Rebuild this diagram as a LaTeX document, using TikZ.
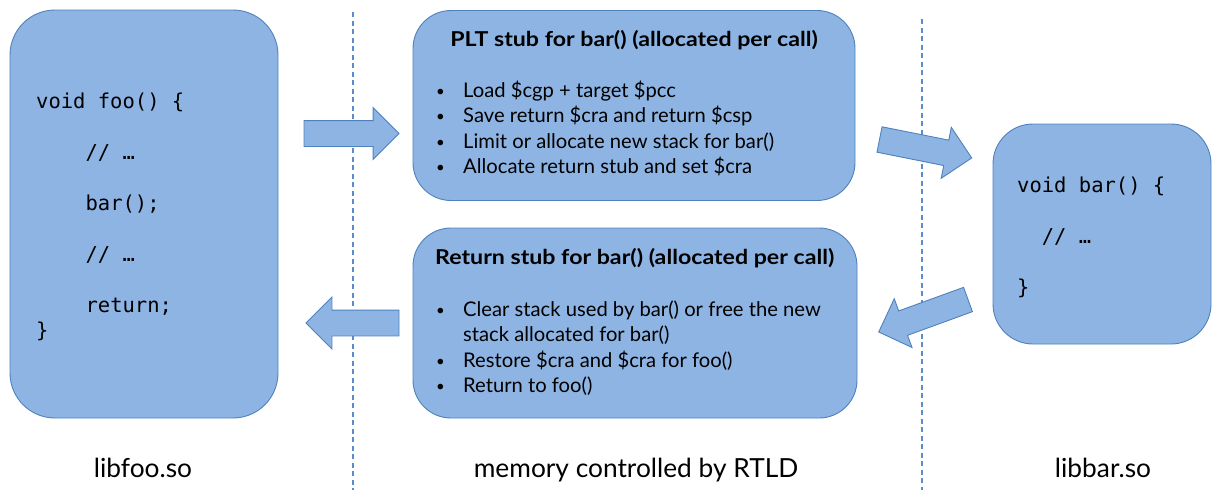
\documentclass[tikz,border=0pt]{standalone}
\usepackage{fontspec}
\setmainfont{Lato}
\newfontfamily\codefont{DejaVu Sans Mono}
\newfontfamily\headfont[FakeStretch=1.13]{Lato Bold}
\usetikzlibrary{shapes.arrows}

\definecolor{boxfill}{HTML}{8EB4E3}
\definecolor{boxline}{HTML}{4F81BD}
\definecolor{sepline}{HTML}{5B8BCB}

\tikzset{
  panel/.style={draw=boxline, fill=boxfill, line width=0.9pt, inner sep=0pt, outer sep=0pt},
  flowarrow/.style={single arrow, draw=boxline, fill=boxfill, line width=0.9pt,
    single arrow tip angle=90, single arrow head extend=13pt, single arrow head indent=0pt,
    inner xsep=0pt, inner ysep=12.5pt, outer sep=0pt, anchor=tail},
  separator/.style={draw=sepline, line width=1.2pt, dash pattern=on 5pt off 3.5pt},
  codetext/.style={anchor=base west, inner sep=0pt, font=\codefont\fontsize{20.5}{25.5}\selectfont},
  listtext/.style={anchor=base west, inner sep=0pt, font=\fontsize{20.2}{25.5}\selectfont},
  titletext/.style={inner sep=0pt, font=\headfont\fontsize{20.5}{24}\selectfont},
  caption/.style={anchor=base, inner sep=0pt, font=\fontsize{26.3}{30}\selectfont}
}
\newcommand{\itm}{\makebox[28pt][l]{\hspace{1pt}\raisebox{1pt}{\fontsize{15}{15}\selectfont\textbullet}}}

\begin{document}
\begin{tikzpicture}[x=1pt, y=-1pt]
\useasboundingbox (0,0) rectangle (1212,490);

% region separators
\coordinate (sepAtop) at (353,12);
\coordinate (sepAbot) at (353,490);
\coordinate (sepBtop) at (922,19);
\coordinate (sepBbot) at (922,490);
\draw[separator] (sepAtop) -- (sepAbot);
\draw[separator] (sepBtop) -- (sepBbot);

% panels
\node[panel, rounded corners=45pt, minimum width=268pt, minimum height=408pt] (foo) at (144,214) {};
\node[panel, rounded corners=38pt, minimum width=442pt, minimum height=190pt] (plt) at (634,105.5) {};
\node[panel, rounded corners=38pt, minimum width=444pt, minimum height=190pt] (ret) at (635,323) {};
\node[panel, rounded corners=40pt, minimum width=218pt, minimum height=220pt] (bar) at (1102,234) {};

% code of foo()
\node[codetext] (foocode) at (36,108) {%
  \begin{tabular}[t]{@{}l@{}}
  void foo() \{\\
  \\
  \ \ \ \ // …\\
  \\
  \ \ \ \ bar();\\
  \\
  \ \ \ \ // …\\
  \\
  \ \ \ \ return;\\
  \}
  \end{tabular}};

% code of bar()
\node[codetext] (barcode) at (1017,192) {%
  \begin{tabular}[t]{@{}l@{}}
  void bar() \{\\
  \\
  \ \ // …\\
  \\
  \}
  \end{tabular}};

% PLT stub
\node[titletext, anchor=base] (plttitle) at (634,46) {PLT stub for bar() (allocated per call)};
\node[listtext] (pltlist) at (435,97) {%
  \begin{tabular}[t]{@{}l@{}}
  \itm Load \$cgp + target \$pcc\\
  \itm Save return \$cra and return \$csp\\
  \itm Limit or allocate new stack for bar()\\
  \itm Allocate return stub and set \$cra
  \end{tabular}};

% return stub
\node[titletext, anchor=base west] (rettitle) at (435,264) {Return stub for bar() (allocated per call)};
\node[listtext] (retlist) at (435,316) {%
  \begin{tabular}[t]{@{}l@{}}
  \itm Clear stack used by bar() or free the new\\
  \hspace{28pt}stack allocated for bar()\\
  \itm Restore \$cra and \$cra for foo()\\
  \itm Return to foo()
  \end{tabular}};

% control flow arrows, placed by their tails
\node[flowarrow, minimum height=95pt] (call) at (304,133.5) {};
\node[flowarrow, minimum height=94pt, rotate=-11.3] (jump) at (879.5,139.5) {};
\node[flowarrow, minimum height=95pt, rotate=200] (back) at (968,299.5) {};
\node[flowarrow, minimum height=93pt, rotate=180] (done) at (399,323) {};

% region captions
\node[caption] (capfoo) at (143,477) {libfoo.so};
\node[caption] (capmem) at (636,477) {memory controlled by RTLD};
\node[caption] (capbar) at (1103,477) {libbar.so};
\end{tikzpicture}
\end{document}
